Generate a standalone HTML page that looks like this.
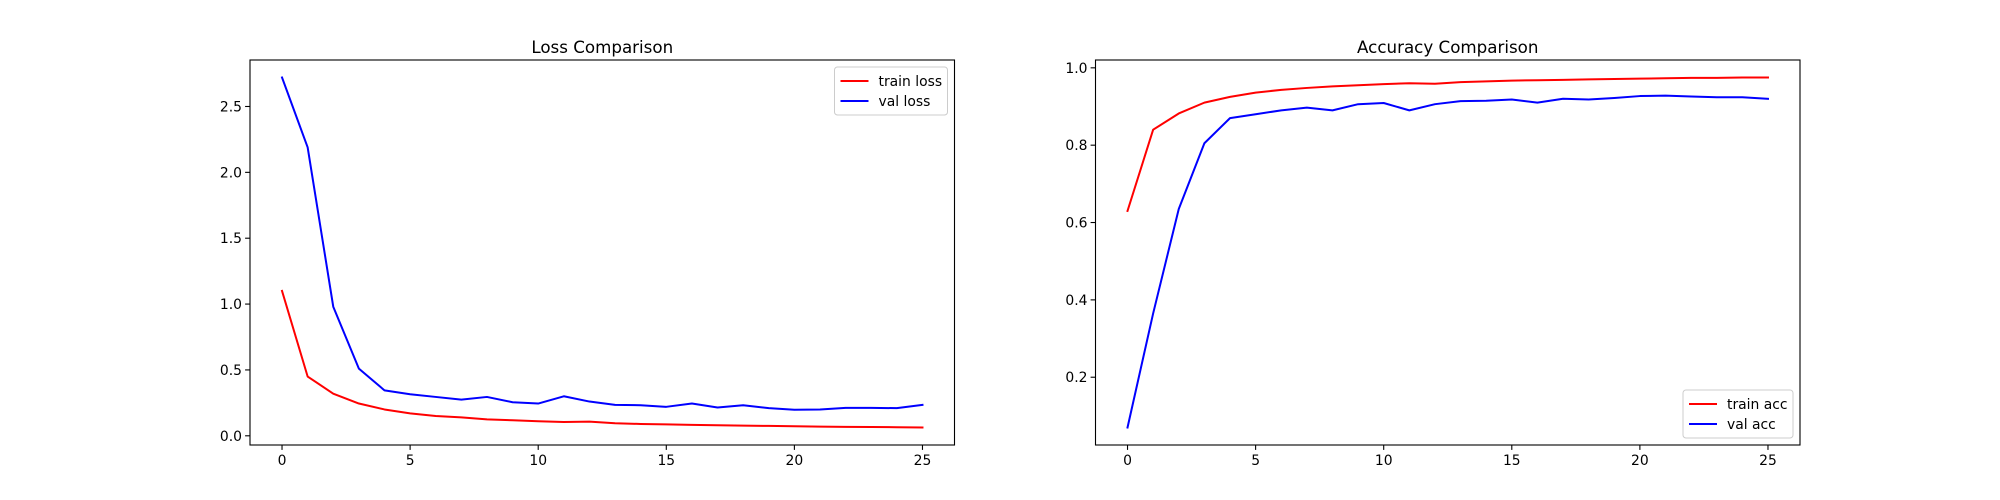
<!DOCTYPE html>
<html><head><meta charset="utf-8"><style>
html,body{margin:0;padding:0;background:#fff;}
svg{display:block;font-family:"DejaVu Sans","Liberation Sans",sans-serif;}
</style></head>
<body>
<svg id="fig" width="2000" height="500" xmlns="http://www.w3.org/2000/svg"></svg>
<script>
const epochs = [0,1,2,3,4,5,6,7,8,9,10,11,12,13,14,15,16,17,18,19,20,21,22,23,24,25];
const trainLoss = [1.10,0.45,0.32,0.245,0.20,0.17,0.15,0.14,0.125,0.118,0.11,0.105,0.108,0.095,0.09,0.087,0.083,0.08,0.077,0.075,0.072,0.07,0.068,0.067,0.065,0.063];
const valLoss = [2.72,2.19,0.98,0.51,0.345,0.315,0.295,0.275,0.295,0.255,0.245,0.30,0.26,0.235,0.232,0.22,0.245,0.215,0.232,0.21,0.198,0.2,0.212,0.212,0.21,0.235];
const trainAcc = [0.63,0.84,0.882,0.91,0.925,0.936,0.943,0.948,0.952,0.955,0.958,0.96,0.959,0.963,0.965,0.967,0.968,0.969,0.97,0.971,0.972,0.973,0.974,0.974,0.975,0.975];
const valAcc = [0.07,0.365,0.635,0.805,0.87,0.88,0.89,0.897,0.89,0.906,0.909,0.89,0.906,0.914,0.915,0.918,0.91,0.92,0.918,0.922,0.927,0.928,0.926,0.924,0.924,0.92];
const xTicks = [0,5,10,15,20,25];
const lossTicks = [0.0,0.5,1.0,1.5,2.0,2.5];
const accTicks = [0.2,0.4,0.6,0.8,1.0];

const NS="http://www.w3.org/2000/svg";
const svg=document.getElementById('fig');
function mk(tag,attrs,parent){const e=document.createElementNS(NS,tag);for(const k in attrs)e.setAttribute(k,attrs[k]);(parent||svg).appendChild(e);return e;}

function panel(opt){
  const g=mk('g',{});
  
  
  const L=opt.left,R=opt.left+704.5,T=60,B=445;
  const xmin=-1.25,xmax=26.25;
  const all=opt.series.flatMap(s=>s.data);
  const dmin=Math.min(...all),dmax=Math.max(...all),m=(dmax-dmin)*0.05;
  const ymin=dmin-m,ymax=dmax+m;
  const X=v=>L+(v-xmin)/(xmax-xmin)*(R-L);
  const Y=v=>B-(v-ymin)/(ymax-ymin)*(B-T);
  const t=mk('text',{x:(L+R)/2,y:T-7,'text-anchor':'middle','font-size':'16.7px',fill:'#000'},g);
  t.textContent=opt.title;
  
  
  opt.series.forEach(s=>{
    const p=mk('polyline',{points:s.data.map((v,i)=>X(epochs[i]).toFixed(2)+','+Y(v).toFixed(2)).join(' '),fill:'none',stroke:s.color,'stroke-width':2,'stroke-linejoin':'round','stroke-linecap':'square'},g);
    
    
  });
  const frame=mk('rect',{x:L,y:T,width:R-L,height:B-T,fill:'none',stroke:'#000','stroke-width':1.1},g);
  
  
  xTicks.forEach(v=>{
    const x=X(v);
    mk('line',{x1:x,x2:x,y1:B,y2:B+4.9,stroke:'#000','stroke-width':1.1},g);
    const tx=mk('text',{x:x,y:B+20,'text-anchor':'middle','font-size':'13.9px'},g);
    tx.textContent=v;
    
    
  });
  opt.yTicks.forEach(v=>{
    const y=Y(v);
    mk('line',{x1:L-4.9,x2:L,y1:y,y2:y,stroke:'#000','stroke-width':1.1},g);
    const ty=mk('text',{x:L-8,y:y+5,'text-anchor':'end','font-size':'13.9px'},g);
    ty.textContent=v.toFixed(1);
    
    
  });
  // legend
  const lw=opt.legendW,lh=48;
  const lx=R-lw-7, ly=opt.legendTop?T+7:B-lh-7;
  const lg=mk('g',{},g);
  
  
  mk('rect',{x:lx,y:ly,width:lw,height:lh,rx:3,fill:'#fff','fill-opacity':0.8,stroke:'#ccc','stroke-width':1},lg);
  opt.series.forEach((s,i)=>{
    const yy=ly+14+i*20;
    mk('line',{x1:lx+6,x2:lx+34,y1:yy,y2:yy,stroke:s.color,'stroke-width':2},lg);
    const lt=mk('text',{x:lx+44,y:yy+5,'font-size':'13.9px'},lg);
    lt.textContent=s.label;
    
    
  });
}
panel({name:'loss-chart',left:250,title:'Loss Comparison',yTicks:lossTicks,legendTop:true,legendW:113,
  series:[{key:'train-loss',label:'train loss',data:trainLoss,color:'#ff0000'},{key:'val-loss',label:'val loss',data:valLoss,color:'#0000ff'}]});
panel({name:'accuracy-chart',left:1095.5,title:'Accuracy Comparison',yTicks:accTicks,legendTop:false,legendW:110,
  series:[{key:'train-acc',label:'train acc',data:trainAcc,color:'#ff0000'},{key:'val-acc',label:'val acc',data:valAcc,color:'#0000ff'}]});
</script>
</body></html>
